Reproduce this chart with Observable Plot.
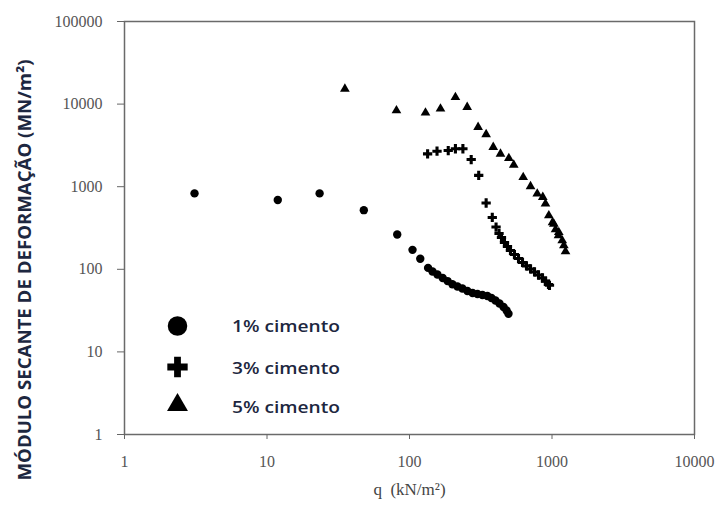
<!DOCTYPE html>
<html><head><meta charset="utf-8">
<script src="https://cdn.jsdelivr.net/npm/d3@7"></script>
<script src="https://cdn.jsdelivr.net/npm/@observablehq/plot@0.6"></script>
<style>
body{margin:0;background:#fff;}
#wrap{position:relative;width:722px;height:506px;}
#leg{position:absolute;left:0;top:0;pointer-events:none;}
</style></head><body><div id="wrap"></div>
<script>
const xTicks = [1, 10, 100, 1000, 10000];
const yTicks = [1, 10, 100, 1000, 10000, 100000];
const seriesNames = ["1% cimento", "3% cimento", "5% cimento"];
const xTitle = "q  (kN/m²)";
const yTitle = "MÓDULO SECANTE DE DEFORMAÇÃO (MN/m²)";

// 1% cimento
const q1 = [3.1, 11.9, 23.4, 47.8, 82, 105, 119, 135, 145, 157, 171, 185, 200, 217, 235, 255, 277, 300, 325, 352, 376, 401, 428, 457, 480, 495];
const e1 = [830, 690, 830, 520, 264, 172, 134, 104, 94, 86.5, 78.5, 72, 66, 62, 58.6, 54.6, 51.6, 50.2, 48.9, 47.5, 45, 41.9, 38.5, 35, 31.7, 29];
// 3% cimento
const q3 = [134, 156, 187, 210, 237, 271, 306, 345, 381, 405, 425, 442, 464, 487, 511, 545, 582, 621, 662, 707, 754, 804, 858, 900, 944, 960];
const e3 = [2500, 2690, 2740, 2880, 2880, 2130, 1370, 635, 424, 325, 271, 243, 211, 189, 169, 151, 135, 121, 110, 101, 92.8, 85.3, 78.5, 72, 65.5, 64];
// 5% cimento
const q5 = [35.2, 81, 129.5, 165, 210, 254, 303, 345, 387, 435, 498, 539, 628, 707, 788, 862, 900, 950, 1009, 1030, 1059, 1111, 1116, 1180, 1211, 1244];
const e5 = [15300, 8370, 7850, 8770, 12100, 9170, 5250, 4290, 3010, 2500, 2210, 1840, 1300, 1010, 820, 746, 621, 448, 369, 355, 303, 257, 281, 223, 194, 164];

const rows = (q, e, s) => q.map((v, i) => ({q: v, e: e[i], s}));
const d1 = rows(q1, e1, seriesNames[0]);
const d3s = rows(q3, e3, seriesNames[1]);
const d5 = rows(q5, e5, seriesNames[2]);

const plot = Plot.plot({
  width: 722, height: 506,
  marginLeft: 124, marginRight: 28, marginTop: 21, marginBottom: 72,
  style: {fontFamily: "'Liberation Serif', serif", fontSize: "16px", color: "#555", background: "#fff"},
  x: {type: "log", domain: [1, 10000]},
  y: {type: "log", domain: [1, 100000]},
  marks: [
    Plot.frame({stroke: "#6a6a6a", strokeWidth: 1.5}),
    Plot.axisX({ticks: xTicks, tickFormat: d => String(d), tickSize: 5, tickPadding: 16, label: null, stroke: "#666"}),
    Plot.axisY({ticks: yTicks, tickFormat: d => String(d), tickSize: 7, tickPadding: 15, label: null, stroke: "#666"}),
    Plot.dot(d1, {x: "q", y: "e", r: 4.2, fill: "#000", symbol: "circle"}),
    Plot.dot(d3s, {x: "q", y: "e", r: 3.9, fill: "#000", symbol: "cross"}),
    Plot.dot(d5, {x: "q", y: "e", r: 3.6, fill: "#000", symbol: "triangle"}),
    Plot.text([xTitle], {frameAnchor: "bottom", dy: 60, fontSize: 17, fill: "#444"})
  ]
});
document.getElementById("wrap").appendChild(plot);

// overlay: y title and legend
const leg = d3.select("#wrap").append("svg").attr("id", "leg").attr("width", 722).attr("height", 506);
leg.append("text").attr("transform", "translate(31,270) rotate(-90)")
  .attr("text-anchor", "middle").text(yTitle)
  .attr("font-family", "'Open Sans', sans-serif").attr("font-weight", "bold")
  .attr("font-size", 18).attr("fill", "#1d2740")
  .attr("textLength", 421).attr("lengthAdjust", "spacingAndGlyphs");
const legSym = [d3.symbolCircle, d3.symbolCross, d3.symbolTriangle];
const legSize = [300, 230, 190];
const legY = [326, 367, 405];
const legBase = [332, 374, 413];
seriesNames.forEach((name, i) => {
  leg.append("path").attr("d", d3.symbol(legSym[i], legSize[i])())
    .attr("transform", `translate(177.5,${legY[i]})`).attr("fill", "#000");
  leg.append("text").attr("x", 232).attr("y", legBase[i]).text(name)
    .attr("font-family", "'Open Sans', sans-serif").attr("font-weight", 600)
    .attr("font-size", 16).attr("fill", "#1d2740")
    .attr("textLength", 108).attr("lengthAdjust", "spacingAndGlyphs");
});
</script></body></html>
